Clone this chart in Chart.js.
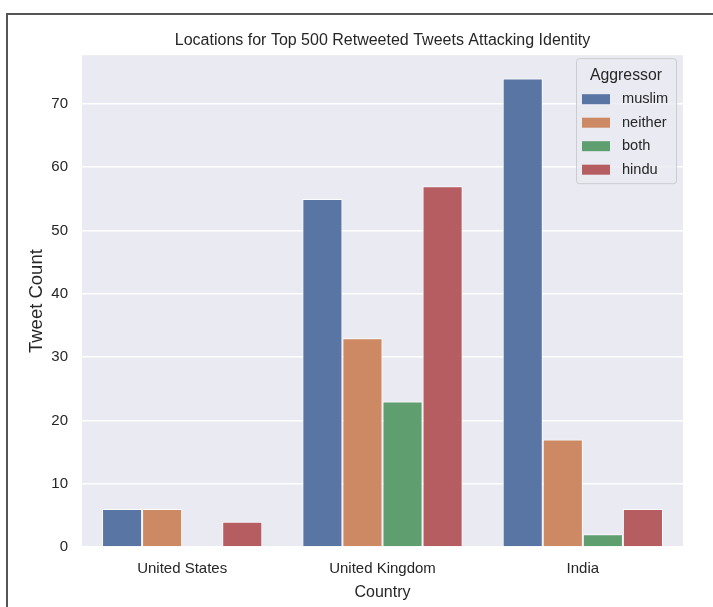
<!DOCTYPE html>
<html><head><meta charset="utf-8">
<script src="https://cdn.jsdelivr.net/npm/chart.js@4.4.1/dist/chart.umd.min.js"></script>
<style>html,body{margin:0;padding:0;background:#fff;overflow:hidden}#wrap{width:713px;height:607px;position:relative}</style>
</head><body><div id="wrap"><canvas id="c" width="713" height="607"></canvas></div>
<script>
const categories = ['United States', 'United Kingdom', 'India'];
const seriesNames = ['muslim', 'neither', 'both', 'hindu'];
const muslim = [6, 55, 74];
const neither = [6, 33, 17];
const both = [0, 23, 2];
const hindu = [4, 57, 6];
const yTicks = [0, 10, 20, 30, 40, 50, 60, 70];
const yMax = 77.7;
const colors = ['#5975a4', '#cc8963', '#5f9e6e', '#b55d60'];
const FONT = "'Liberation Sans', Arial, sans-serif";
const TXT = '#262626';

const seriesValues = [muslim, neither, both, hindu];

const framePlugin = {
  id: 'frame',
  beforeDraw(chart) {
    const ctx = chart.ctx;
    ctx.save();
    ctx.fillStyle = '#ffffff';
    ctx.fillRect(0, 0, chart.width, chart.height);
    ctx.strokeStyle = '#555555';
    ctx.lineWidth = 2;
    ctx.beginPath();
    ctx.moveTo(7, chart.height);
    ctx.lineTo(7, 14);
    ctx.lineTo(chart.width, 14);
    ctx.stroke();
    const a = chart.chartArea;
    ctx.fillStyle = '#EAEAF2';
    ctx.fillRect(a.left, a.top, a.right - a.left, a.bottom - a.top);
    ctx.restore();
  }
};

const legendPlugin = {
  id: 'boxLegend',
  afterDraw(chart) {
    const ctx = chart.ctx;
    const a = chart.chartArea;
    const w = 100, h = 125;
    const x = a.right - 7 - w, y = a.top + 3;
    ctx.save();
    ctx.fillStyle = 'rgba(234,234,242,0.8)';
    ctx.strokeStyle = '#cccccc';
    ctx.lineWidth = 1;
    ctx.beginPath();
    ctx.roundRect(x + 0.5, y + 0.5, w, h, 3);
    ctx.fill();
    ctx.stroke();
    ctx.fillStyle = TXT;
    ctx.textBaseline = 'middle';
    ctx.textAlign = 'center';
    ctx.font = '15.8px ' + FONT;
    ctx.fillText('Aggressor', x + w / 2, y + 17);
    ctx.textAlign = 'left';
    ctx.font = '14.6px ' + FONT;
    chart.data.datasets.forEach((ds, i) => {
      const ry = y + 41 + i * 23.5;
      ctx.fillStyle = ds.backgroundColor;
      ctx.fillRect(x + 6, ry - 5, 28, 10);
      ctx.fillStyle = TXT;
      ctx.fillText(ds.label, x + 46, ry);
    });
    ctx.restore();
  }
};

new Chart(document.getElementById('c'), {
  type: 'bar',
  data: {
    labels: categories,
    datasets: seriesNames.map((n, i) => ({
      label: n,
      data: seriesValues[i],
      backgroundColor: colors[i],
      borderColor: 'rgba(255,255,255,0.85)',
      borderWidth: 1,
      categoryPercentage: 0.8,
      barPercentage: 1.0
    }))
  },
  options: {
    responsive: false,
    animation: false,
    devicePixelRatio: 1,
    layout: { padding: { left: 0, right: 30, top: 0, bottom: 0 } },
    plugins: {
      legend: { display: false },
      tooltip: { enabled: false },
      title: {
        display: true,
        fullSize: false,
        text: 'Locations for Top 500 Retweeted Tweets Attacking Identity',
        color: TXT,
        font: { family: FONT, size: 16, weight: 'normal' },
        padding: { top: 31, bottom: 5 }
      }
    },
    scales: {
      x: {
        grid: { display: false, drawTicks: false },
        border: { display: false },
        ticks: { color: TXT, font: { family: FONT, size: 15 }, padding: 13 },
        title: { display: true, text: 'Country', color: TXT, font: { family: FONT, size: 16 }, padding: { top: 4, bottom: 5 } },
        afterFit(s) { s.height = 60; }
      },
      y: {
        min: 0,
        max: yMax,
        grid: { color: '#ffffff', lineWidth: 1.5, drawTicks: false },
        border: { display: false },
        ticks: { color: TXT, font: { family: FONT, size: 15 }, padding: 14, stepSize: 10, includeBounds: false },
        afterBuildTicks(s) { s.ticks = yTicks.map(v => ({ value: v })); },
        title: { display: true, text: 'Tweet Count', color: TXT, font: { family: FONT, size: 18.5 }, padding: { top: 26, bottom: 0 } },
        afterFit(s) { s.width = 82; }
      }
    }
  },
  plugins: [framePlugin, legendPlugin]
});
</script>
</body></html>
